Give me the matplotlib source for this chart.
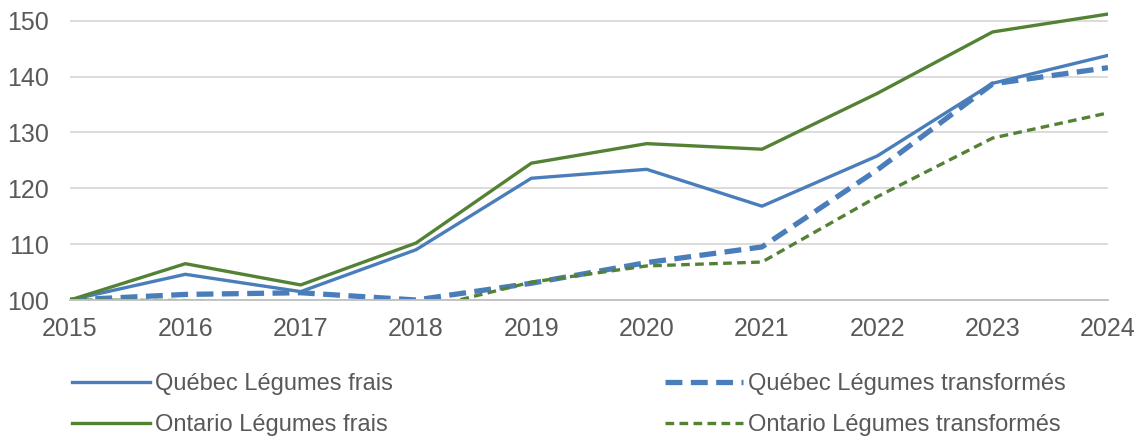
import matplotlib.pyplot as plt

years = [2015, 2016, 2017, 2018, 2019, 2020, 2021, 2022, 2023, 2024]
qc_frais = [100, 104.6, 101.5, 109.0, 121.8, 123.4, 116.8, 125.8, 138.8, 143.8]
qc_transf = [100, 101.0, 101.3, 100.0, 103.0, 106.7, 109.5, 123.3, 138.7, 141.6]
on_frais = [100, 106.5, 102.7, 110.2, 124.5, 128.0, 127.0, 137.0, 148.0, 151.2]
on_transf = [100, 99.9, 99.2, 98.1, 103.2, 106.1, 106.8, 118.5, 129.0, 133.5]

blue = '#4A7EBB'
green = '#548235'
plt.rcParams['font.family'] = ['Liberation Sans', 'DejaVu Sans']

fig = plt.figure(figsize=(11.37, 4.4), dpi=100)
ax = fig.add_axes([70 / 1137, 1 - 300 / 440, 1038 / 1137, 296 / 440])

l1, = ax.plot(years, qc_frais, color=blue, lw=2.4, label='Québec Légumes frais')
l2, = ax.plot(years, qc_transf, color=blue, lw=3.8, ls=(0, (3.2, 1.6)),
              label='Québec Légumes transformés')
l3, = ax.plot(years, on_frais, color=green, lw=2.4, label='Ontario Légumes frais')
l4, = ax.plot(years, on_transf, color=green, lw=2.4, ls=(0, (2.6, 1.6)),
              label='Ontario Légumes transformés')

ax.set_xlim(2015, 2024)
ax.set_ylim(100, 153)
ax.set_yticks([100, 110, 120, 130, 140, 150])
ax.set_xticks(years)
ax.grid(axis='y', color='#D9D9D9', lw=1.3)
ax.set_axisbelow(True)
for s in ['top', 'right', 'left']:
    ax.spines[s].set_visible(False)
ax.spines['bottom'].set_color('#BFBFBF')
ax.spines['bottom'].set_linewidth(1.3)
ax.tick_params(length=0, labelsize=18, labelcolor='#595959')
ax.tick_params(axis='y', pad=15)
ax.tick_params(axis='x', pad=12)

# two legends, one per column, so each column sits where it should
opts = dict(loc='upper left', frameon=False, fontsize=17, handlelength=3.3,
            handletextpad=0.2, labelspacing=0.8, borderpad=0, borderaxespad=0,
            labelcolor='#595959')
fig.legend(handles=[l1, l3], bbox_to_anchor=(72 / 1137, 1 - 373 / 440), **opts)
fig.legend(handles=[l2, l4], bbox_to_anchor=(665 / 1137, 1 - 373 / 440), **opts)

fig.savefig('out.png', dpi=100)
